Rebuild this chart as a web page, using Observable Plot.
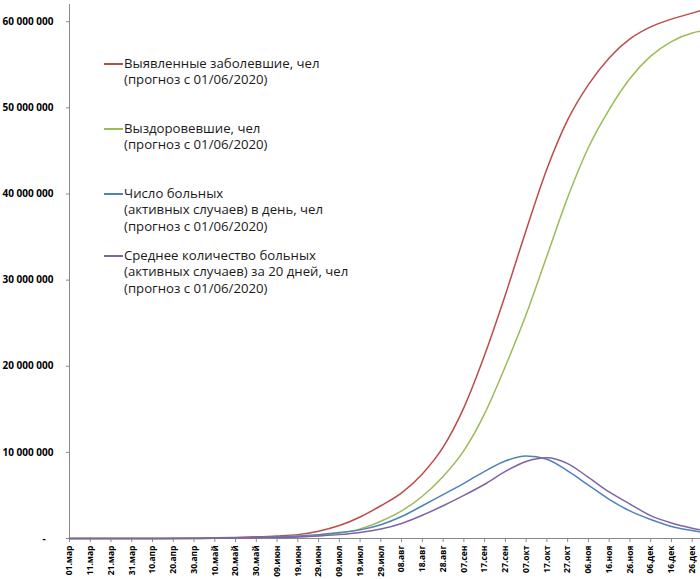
<!DOCTYPE html>
<html>
<head>
<meta charset="utf-8">
<script src="https://cdn.jsdelivr.net/npm/d3@7"></script>
<script src="https://cdn.jsdelivr.net/npm/@observablehq/plot@0.6"></script>
<style>
  body { margin: 0; background: #fff; }
  #wrap { position: relative; width: 700px; height: 579px; overflow: hidden; }
  #legend { position: absolute; left: 0; top: 0; font-family: "Open Sans", "Noto Sans", sans-serif; font-size: 13.2px; color: #1a1a1a; line-height: 16.3px; }
  .item { position: absolute; left: 104px; white-space: nowrap; }
  .item .sw { position: absolute; left: 0; top: 8px; width: 19px; height: 2px; }
  .item .tx { position: absolute; left: 20px; top: 0; }
</style>
</head>
<body>
<div id="wrap">
  <div id="chart"></div>
  <div id="legend"></div>
</div>
<script>
// ---- data ----
const startDate = "2020-03-01";
const days = [0,10,20,30,40,50,60,70,80,90,100,110,120,130,140,150,160,170,180,190,200,210,220,230,240,250,260,270,280,290,300,304];

const confirmed = [0,0,0,0,0.01,0.02,0.04,0.08,0.13,0.2,0.3,0.45,0.85,1.5,2.5,3.8,5.3,7.5,10.6,15.2,21.3,28.3,35.8,42.9,48.6,52.7,55.8,58.0,59.4,60.3,61.0,61.3];
const recovered = [0,0,0,0,0,0,0.01,0.02,0.04,0.08,0.12,0.2,0.35,0.6,1.1,2.0,3.2,4.9,7.2,10.2,14.5,20.0,26.0,32.8,39.6,45.4,49.8,53.4,56.0,57.7,58.7,58.9];
const active    = [0,0,0,0,0,0.01,0.02,0.05,0.08,0.12,0.2,0.3,0.45,0.7,1.0,1.6,2.55,3.8,5.1,6.4,7.8,9.0,9.58,9.2,7.85,6.2,4.55,3.2,2.2,1.4,0.92,0.75];
const avg20     = [0,0,0,0,0,0,0.01,0.02,0.04,0.07,0.1,0.18,0.3,0.45,0.7,1.1,1.75,2.7,3.8,5.0,6.3,7.8,8.95,9.38,8.7,7.1,5.4,4.0,2.65,1.8,1.2,1.0];

const seriesNames = [
  "Выявленные заболевшие, чел (прогноз с 01/06/2020)",
  "Выздоровевшие, чел (прогноз с 01/06/2020)",
  "Число больных (активных случаев) в день, чел (прогноз с 01/06/2020)",
  "Среднее количество больных (активных случаев) за 20 дней, чел (прогноз с 01/06/2020)"
];
const legendLines = [
  ["Выявленные заболевшие, чел", "(прогноз с 01/06/2020)"],
  ["Выздоровевшие, чел", "(прогноз с 01/06/2020)"],
  ["Число больных", "(активных случаев) в день, чел", "(прогноз с 01/06/2020)"],
  ["Среднее количество больных", "(активных случаев) за 20 дней, чел", "(прогноз с 01/06/2020)"]
];
const seriesColors = ["#be4b48", "#9bbb59", "#4f81bd", "#8064a2"];

const xTickDays = [0,10,20,30,40,50,60,70,80,90,100,110,120,130,140,150,160,170,180,190,200,210,220,230,240,250,260,270,280,290,300];
const xTickLabels = ["01.мар","11.мар","21.мар","31.мар","10.апр","20.апр","30.апр","10.май","20.май","30.май","09.июн","19.июн","29.июн","09.июл","19.июл","29.июл","08.авг","18.авг","28.авг","07.сен","17.сен","27.сен","07.окт","17.окт","27.окт","06.ноя","16.ноя","26.ноя","06.дек","16.дек","26.дек"];
const yTicks = [0,10e6,20e6,30e6,40e6,50e6,60e6];
const yTickLabels = ["-\u00a0\u00a0\u00a0","10 000 000","20 000 000","30 000 000","40 000 000","50 000 000","60 000 000"];

// ---- build ----
const t0 = new Date(startDate + "T00:00:00Z");
const toDate = d => d3.utcDay.offset(t0, d);
const allSeries = [confirmed, recovered, active, avg20];
const rows = [];
allSeries.forEach((vals, s) => {
  vals.forEach((v, i) => rows.push({date: toDate(days[i]), value: v * 1e6, series: seriesNames[s]}));
});
const xTickDates = xTickDays.map(toDate);
const labelByTime = new Map(xTickDates.map((d, i) => [+d, xTickLabels[i]]));
const yLabelBy = new Map(yTicks.map((v, i) => [v, yTickLabels[i]]));

const chart = Plot.plot({
  width: 700,
  height: 579,
  marginLeft: 69,
  marginRight: 0,
  marginTop: 4,
  marginBottom: 41,
  style: {fontFamily: "'Open Sans', 'Noto Sans', sans-serif", background: "#fff", color: "#000"},
  x: {type: "utc", domain: [toDate(0), toDate(304)], label: null},
  y: {domain: [0, 62e6], label: null},
  color: {domain: seriesNames, range: seriesColors},
  marks: [
    Plot.axisY({ticks: yTicks, tickFormat: v => yLabelBy.get(v), tickSize: 3, tickPadding: 13, fontSize: 10, fontWeight: "bold", stroke: "#888", fill: "#000", label: null}),
    Plot.axisX({ticks: xTickDates, tickFormat: d => labelByTime.get(+d), tickRotate: -90, tickSize: 4, tickPadding: 3, fontSize: 8.5, fontWeight: "bold", stroke: "#888", fill: "#000", label: null}),
    Plot.ruleX([toDate(0)], {stroke: "#888"}),
    Plot.ruleY([0], {stroke: "#888"}),
    Plot.line(rows, {x: "date", y: "value", z: "series", stroke: "series", strokeWidth: 1.5, curve: "monotone-x"})
  ]
});
document.getElementById("chart").appendChild(chart);

// legend (HTML overlay)
const legendTops = [55, 120, 185, 247];
const legend = document.getElementById("legend");
legendLines.forEach((lines, i) => {
  const item = document.createElement("div");
  item.className = "item";
  item.style.top = legendTops[i] + "px";
  const sw = document.createElement("div");
  sw.className = "sw";
  sw.style.background = seriesColors[i];
  const tx = document.createElement("div");
  tx.className = "tx";
  tx.innerHTML = lines.join("<br>");
  item.appendChild(sw);
  item.appendChild(tx);
  legend.appendChild(item);
});
</script>
</body>
</html>
